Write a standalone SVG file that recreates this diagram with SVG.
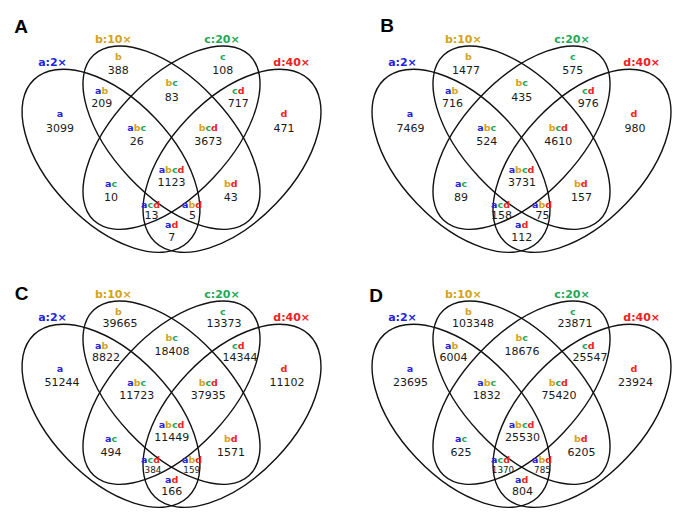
<svg xmlns="http://www.w3.org/2000/svg" xmlns:xlink="http://www.w3.org/1999/xlink" width="700" height="527" viewBox="0 0 700 527">
<style>
.el{fill:none;stroke:#111;stroke-width:1.4}
.pl{font-family:"Liberation Sans",Arial,sans-serif;font-weight:bold;font-size:19px;fill:#000;text-anchor:middle}
.tt{font-family:"DejaVu Sans",Verdana,sans-serif;font-weight:bold;font-size:11px;text-anchor:middle}
.lb{font-family:"DejaVu Sans",Verdana,sans-serif;font-weight:bold;font-size:9.5px;text-anchor:middle}
.nm{font-family:"DejaVu Sans",Verdana,sans-serif;font-size:11px;fill:#1a1a1a;text-anchor:middle}
.sm{font-size:8.8px}
.a{fill:#2323dc}.b{fill:#d6a21c}.c{fill:#1fa857}.d{fill:#ee2222}
</style>
<defs>
<g id="sets">
<ellipse class="el" cx="111" cy="160.8" rx="111.9" ry="61.4" transform="rotate(46.5 111 160.8)"/>
<ellipse class="el" cx="171.5" cy="137.7" rx="113.5" ry="57.9" transform="rotate(46.7 171.5 137.7)"/>
<ellipse class="el" cx="171.5" cy="137.7" rx="113.5" ry="57.9" transform="rotate(-46.7 171.5 137.7)"/>
<ellipse class="el" cx="232" cy="160.8" rx="111.9" ry="61.4" transform="rotate(-46.5 232 160.8)"/>
</g>
<g id="titles">
<text class="tt a" x="52.5" y="66">a:2×</text>
<text class="tt b" x="113.3" y="43.3">b:10×</text>
<text class="tt c" x="222" y="43.3">c:20×</text>
<text class="tt d" x="291.7" y="66">d:40×</text>
</g>
<g id="regionLabels">
<text class="lb" x="118.3" y="59.5"><tspan class="b">b</tspan></text>
<text class="lb" x="222.7" y="59.5"><tspan class="c">c</tspan></text>
<text class="lb" x="101.7" y="93.5"><tspan class="a">a</tspan><tspan class="b">b</tspan></text>
<text class="lb" x="171.7" y="86"><tspan class="b">b</tspan><tspan class="c">c</tspan></text>
<text class="lb" x="238.3" y="93.5"><tspan class="c">c</tspan><tspan class="d">d</tspan></text>
<text class="lb" x="60" y="117"><tspan class="a">a</tspan></text>
<text class="lb" x="284" y="117"><tspan class="d">d</tspan></text>
<text class="lb" x="136.7" y="130.5"><tspan class="a">a</tspan><tspan class="b">b</tspan><tspan class="c">c</tspan></text>
<text class="lb" x="208.3" y="130.5"><tspan class="b">b</tspan><tspan class="c">c</tspan><tspan class="d">d</tspan></text>
<text class="lb" x="171.5" y="172.5"><tspan class="a">a</tspan><tspan class="b">b</tspan><tspan class="c">c</tspan><tspan class="d">d</tspan></text>
<text class="lb" x="111" y="187"><tspan class="a">a</tspan><tspan class="c">c</tspan></text>
<text class="lb" x="230.7" y="187"><tspan class="b">b</tspan><tspan class="d">d</tspan></text>
<text class="lb" x="150.5" y="207.5"><tspan class="a">a</tspan><tspan class="c">c</tspan><tspan class="d">d</tspan></text>
<text class="lb" x="192" y="207.5"><tspan class="a">a</tspan><tspan class="b">b</tspan><tspan class="d">d</tspan></text>
<text class="lb" x="171.7" y="227.5"><tspan class="a">a</tspan><tspan class="d">d</tspan></text>
</g>
</defs>

<g id="panelA">
<text class="pl" x="21" y="33">A</text>
<use xlink:href="#sets"/>
<use xlink:href="#titles"/>
<use xlink:href="#regionLabels"/>
<g class="nums">
<text class="nm" x="118.3" y="74">388</text>
<text class="nm" x="222.7" y="74">108</text>
<text class="nm" x="101.7" y="106.5">209</text>
<text class="nm" x="171.7" y="100.5">83</text>
<text class="nm" x="238.3" y="106.5">717</text>
<text class="nm" x="60" y="131.5">3099</text>
<text class="nm" x="284" y="131.5">471</text>
<text class="nm" x="136.7" y="144.5">26</text>
<text class="nm" x="208.3" y="144.5">3673</text>
<text class="nm" x="171.5" y="186">1123</text>
<text class="nm" x="111" y="201">10</text>
<text class="nm" x="230.7" y="201">43</text>
<text class="nm" x="151.5" y="219">13</text>
<text class="nm" x="192.5" y="219">5</text>
<text class="nm" x="171.7" y="241">7</text>
</g>
</g>

<g id="panelB" transform="translate(350,0)">
<text class="pl" x="37" y="32">B</text>
<use xlink:href="#sets"/>
<use xlink:href="#titles"/>
<use xlink:href="#regionLabels"/>
<g class="nums">
<text class="nm" x="116" y="74">1477</text>
<text class="nm" x="222.7" y="74">575</text>
<text class="nm" x="102.5" y="106.5">716</text>
<text class="nm" x="171.7" y="100.5">435</text>
<text class="nm" x="238.3" y="106.5">976</text>
<text class="nm" x="60.5" y="131.5">7469</text>
<text class="nm" x="285" y="131.5">980</text>
<text class="nm" x="136.7" y="144.5">524</text>
<text class="nm" x="208.3" y="144.5">4610</text>
<text class="nm" x="172" y="186">3731</text>
<text class="nm" x="111" y="201">89</text>
<text class="nm" x="231.5" y="201">157</text>
<text class="nm" x="151.5" y="219">158</text>
<text class="nm" x="192.5" y="219">75</text>
<text class="nm" x="171.7" y="241">112</text>
</g>
</g>

<g id="panelC" transform="translate(0,255)">
<text class="pl" x="21.7" y="45">C</text>
<use xlink:href="#sets"/>
<use xlink:href="#titles"/>
<use xlink:href="#regionLabels"/>
<g class="nums">
<text class="nm" x="120" y="72">39665</text>
<text class="nm" x="224" y="72">13373</text>
<text class="nm" x="106" y="105.5">8822</text>
<text class="nm" x="172" y="99.5">18408</text>
<text class="nm" x="240" y="105.5">14344</text>
<text class="nm" x="62" y="131">51244</text>
<text class="nm" x="287" y="131">11102</text>
<text class="nm" x="136.7" y="144">11723</text>
<text class="nm" x="208.3" y="144">37935</text>
<text class="nm" x="171.7" y="185.5">11449</text>
<text class="nm" x="111" y="201">494</text>
<text class="nm" x="231" y="201">1571</text>
<text class="nm sm" x="153" y="218">384</text>
<text class="nm sm" x="191.7" y="218">159</text>
<text class="nm" x="171.7" y="240">166</text>
</g>
</g>

<g id="panelD" transform="translate(350,255)">
<text class="pl" x="26" y="46.5">D</text>
<use xlink:href="#sets"/>
<use xlink:href="#titles"/>
<use xlink:href="#regionLabels"/>
<g class="nums">
<text class="nm" x="123" y="72">103348</text>
<text class="nm" x="225" y="72">23871</text>
<text class="nm" x="103.5" y="105.5">6004</text>
<text class="nm" x="172" y="99.5">18676</text>
<text class="nm" x="240" y="105.5">25547</text>
<text class="nm" x="60.5" y="131">23695</text>
<text class="nm" x="285.5" y="131">23924</text>
<text class="nm" x="136.7" y="144">1832</text>
<text class="nm" x="209" y="144">75420</text>
<text class="nm" x="172.5" y="185.5">25530</text>
<text class="nm" x="111" y="201">625</text>
<text class="nm" x="231.5" y="201">6205</text>
<text class="nm sm" x="153" y="218">1370</text>
<text class="nm sm" x="192.5" y="218">785</text>
<text class="nm" x="172.5" y="240">804</text>
</g>
</g>
</svg>
